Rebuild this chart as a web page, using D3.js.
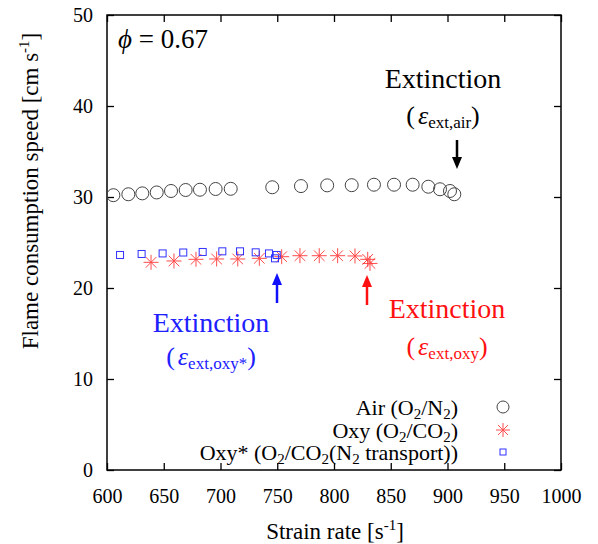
<!DOCTYPE html>
<html>
<head>
<meta charset="utf-8">
<script src="https://cdn.jsdelivr.net/npm/d3@7"></script>
<style>
body { margin: 0; background: #fff; }
text { font-family: "Liberation Serif", "Times New Roman", "DejaVu Serif", serif; }
</style>
</head>
<body>
<div id="chart"></div>
<script>
// data
var airX = [605.6, 618.8, 631.1, 643.8, 656.4, 669.3, 681.9, 695.7, 709, 745.6, 770.9, 794, 815.6, 835.2, 852.9, 869.3, 883.1, 893.4, 902.2, 906];
var airY = [30.2, 30.3, 30.4, 30.5, 30.66, 30.77, 30.8, 30.88, 30.9, 31.07, 31.2, 31.28, 31.3, 31.35, 31.35, 31.35, 31.13, 30.85, 30.66, 30.3];
var oxyX = [638.8, 659, 678.4, 696.6, 715.2, 734.2, 753.9, 770, 787, 803.2, 818.5, 829.7, 831.7];
var oxyY = [22.82, 22.97, 23.15, 23.19, 23.19, 23.26, 23.44, 23.55, 23.55, 23.55, 23.52, 23.15, 22.7];
var oxyStarX = [611.5, 630.5, 649, 667.2, 684.3, 701.6, 717.2, 731, 742.7, 749.5, 748];
var oxyStarY = [23.63, 23.74, 23.8, 23.9, 23.96, 24.03, 24.03, 23.92, 23.8, 23.63, 23.26];
var xTicks = [600, 650, 700, 750, 800, 850, 900, 950, 1000];
var yTicks = [0, 10, 20, 30, 40, 50];

var W = 598, H = 544;
var m = {left: 107, right: 37, top: 15, bottom: 74};

var svg = d3.select("#chart").append("svg")
    .attr("width", W).attr("height", H);

var x = d3.scaleLinear().domain([600, 1000]).range([m.left, W - m.right]);
var y = d3.scaleLinear().domain([0, 50]).range([H - m.bottom, m.top]);

// axes - ticks inward on all four sides
var tk = 7;
svg.append("g").attr("transform", "translate(0," + y(0) + ")")
    .call(d3.axisBottom(x).tickValues(xTicks).tickSize(-tk).tickPadding(19).tickFormat(d3.format("d")))
    .call(function(g) { g.select(".domain").remove(); });
svg.append("g").attr("transform", "translate(0," + y(50) + ")")
    .call(d3.axisTop(x).tickValues(xTicks).tickSize(-tk).tickFormat(""))
    .call(function(g) { g.select(".domain").remove(); });
svg.append("g").attr("transform", "translate(" + x(600) + ",0)")
    .call(d3.axisLeft(y).tickValues(yTicks).tickSize(-tk).tickPadding(14))
    .call(function(g) { g.select(".domain").remove(); });
svg.append("g").attr("transform", "translate(" + x(1000) + ",0)")
    .call(d3.axisRight(y).tickValues(yTicks).tickSize(-tk).tickFormat(""))
    .call(function(g) { g.select(".domain").remove(); });

svg.selectAll(".tick line").attr("stroke", "#000").attr("stroke-width", 1.3);
svg.selectAll(".tick text").attr("font-size", 20).attr("fill", "#000");

svg.append("rect")
    .attr("x", x(600)).attr("y", y(50))
    .attr("width", x(1000) - x(600)).attr("height", y(0) - y(50))
    .attr("fill", "none").attr("stroke", "#000").attr("stroke-width", 1.5);

// axis titles
var yt = svg.append("text")
    .attr("transform", "translate(38,191) rotate(-90)")
    .attr("text-anchor", "middle").attr("font-size", 23);
yt.append("tspan").text("Flame consumption speed [cm s");
yt.append("tspan").attr("font-size", 15).attr("dy", -9).text("-1");
yt.append("tspan").attr("dy", 9).text("]");

var xt = svg.append("text")
    .attr("x", 335).attr("y", 539)
    .attr("text-anchor", "middle").attr("font-size", 23);
xt.append("tspan").text("Strain rate [s");
xt.append("tspan").attr("font-size", 15).attr("dy", -9).text("-1");
xt.append("tspan").attr("dy", 9).text("]");

// markers
function star(g, cx, cy, r, color) {
    var s = g.append("g").attr("transform", "translate(" + cx + "," + cy + ")")
        .attr("stroke", color).attr("stroke-width", 1).attr("opacity", 0.8);
    [0, 45, 90, 135].forEach(function(a) {
        var rad = a * Math.PI / 180;
        s.append("line")
            .attr("x1", -r * Math.cos(rad)).attr("y1", -r * Math.sin(rad))
            .attr("x2", r * Math.cos(rad)).attr("y2", r * Math.sin(rad));
    });
}

var air = airX.map(function(d, i) { return {x: d, y: airY[i]}; });
var oxy = oxyX.map(function(d, i) { return {x: d, y: oxyY[i]}; });
var oxyS = oxyStarX.map(function(d, i) { return {x: d, y: oxyStarY[i]}; });

svg.append("g").selectAll("circle").data(air).enter().append("circle")
    .attr("cx", function(d) { return x(d.x); })
    .attr("cy", function(d) { return y(d.y); })
    .attr("r", 6.5)
    .attr("fill", "none").attr("stroke", "#444").attr("stroke-width", 1);

var og = svg.append("g");
oxy.forEach(function(d) { star(og, x(d.x), y(d.y), 7.5, "#ff2020"); });

svg.append("g").selectAll("rect").data(oxyS).enter().append("rect")
    .attr("x", function(d) { return x(d.x) - 3.5; })
    .attr("y", function(d) { return y(d.y) - 3.5; })
    .attr("width", 7).attr("height", 7)
    .attr("fill", "none").attr("stroke", "#3030ff").attr("stroke-width", 1);

// annotations
svg.append("text").attr("x", 118).attr("y", 48).attr("font-size", 27)
    .html('<tspan font-style="italic">ϕ</tspan> = 0.67');

function extinction(cx, y1, y2, label, color) {
    svg.append("text").attr("x", cx).attr("y", y1).attr("text-anchor", "middle")
        .attr("font-size", 28).attr("fill", color).text("Extinction");
    var t = svg.append("text").attr("x", cx).attr("y", y2).attr("text-anchor", "middle")
        .attr("font-size", 26).attr("fill", color);
    t.append("tspan").text("(");
    t.append("tspan").attr("font-style", "italic").attr("dx", 3).text("ε");
    t.append("tspan").attr("font-size", 17).attr("dy", 4).text(label);
    t.append("tspan").attr("dy", -4).text(")");
}
extinction(443, 88, 124, "ext,air", "#000");
extinction(211, 332, 365, "ext,oxy*", "#2020ff");
extinction(447, 318, 355, "ext,oxy", "#ff1010");

function arrow(ax, yFrom, yTo, color) {
    var dir = yTo > yFrom ? 1 : -1;
    svg.append("line").attr("x1", ax).attr("x2", ax)
        .attr("y1", yFrom).attr("y2", yTo - dir * 10)
        .attr("stroke", color).attr("stroke-width", 2.5);
    svg.append("path")
        .attr("d", "M" + (ax - 5) + "," + (yTo - dir * 12) + "L" + ax + "," + yTo + "L" + (ax + 5) + "," + (yTo - dir * 12) + "Z")
        .attr("fill", color);
}
arrow(457, 140, 169, "#000");
arrow(277, 303, 273, "#1010ff");
arrow(367, 305, 275, "#ff1010");

// legend
var legend = [
    {parts: [["Air (O", 0], ["2", 1], ["/N", 0], ["2", 1], [")", 0]], type: "circle"},
    {parts: [["Oxy (O", 0], ["2", 1], ["/CO", 0], ["2", 1], [")", 0]], type: "star"},
    {parts: [["Oxy* (O", 0], ["2", 1], ["/CO", 0], ["2", 1], ["(N", 0], ["2", 1], [" transport))", 0]], type: "square"}
];
var legY = [415, 438, 460];
legend.forEach(function(l, i) {
    var by = legY[i];
    var t = svg.append("text").attr("x", 458).attr("y", by)
        .attr("text-anchor", "end").attr("font-size", 22);
    var sub = 0;
    l.parts.forEach(function(p) {
        var dy = p[1] ? 4 : (sub ? -4 : 0);
        sub = p[1];
        t.append("tspan").attr("dy", dy).attr("font-size", p[1] ? 15 : 22).text(p[0]);
    });
    var sy = by - 8;
    if (l.type === "circle") {
        svg.append("circle").attr("cx", 503).attr("cy", sy).attr("r", 6)
            .attr("fill", "none").attr("stroke", "#444");
    } else if (l.type === "star") {
        star(svg, 503, sy, 7, "#ff2020");
    } else {
        svg.append("rect").attr("x", 500).attr("y", sy - 3).attr("width", 6).attr("height", 6)
            .attr("fill", "none").attr("stroke", "#3030ff");
    }
});
</script>
</body>
</html>
